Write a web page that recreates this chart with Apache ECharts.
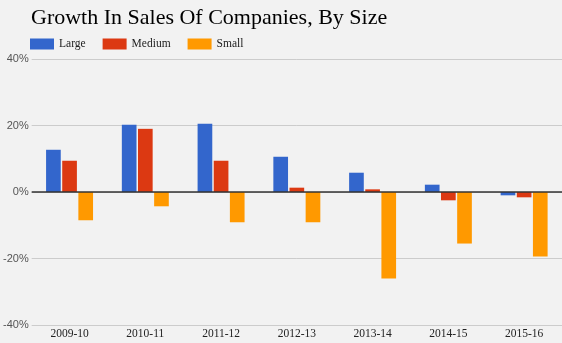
<!DOCTYPE html>
<html>
<head>
<meta charset="utf-8">
<script src="https://cdn.jsdelivr.net/npm/echarts@6/dist/echarts.min.js"></script>
<style>
html,body{margin:0;padding:0;background:#f2f2f2;}
#chart{width:562px;height:343px;}
</style>
</head>
<body>
<div id="chart"></div>
<script>
const categories = ['2009-10','2010-11','2011-12','2012-13','2013-14','2014-15','2015-16'];
const large  = [12.7, 20.2, 20.5, 10.6, 5.8, 2.2, -1.0];
const medium = [9.4, 19.0, 9.4, 1.3, 0.8, -2.5, -1.6];
const small  = [-8.5, -4.3, -9.1, -9.1, -26.0, -15.5, -19.4];
const seriesNames = ['Large','Medium','Small'];
const colors = ['#3366cc','#dc3912','#ff9900'];

const chart = echarts.init(document.getElementById('chart'));
const serif = '"Liberation Serif", "DejaVu Serif", serif';
const dataSets = [large, medium, small];
chart.setOption({
  backgroundColor: '#f2f2f2',
  animation: false,
  color: colors,
  title: {
    text: 'Growth In Sales Of Companies, By Size',
    left: 26, top: 2,
    textStyle: {fontFamily: serif, fontSize: 22, fontWeight: 'normal', color: '#000'}
  },
  legend: {
    left: 25, top: 33,
    icon: 'rect', itemWidth: 24, itemHeight: 11, itemGap: 17,
    textStyle: {fontFamily: serif, fontSize: 11.5, color: '#222'},
    data: seriesNames
  },
  grid: {left: 30, top: 59, width: 544, height: 266, containLabel: false},
  xAxis: {
    type: 'category',
    data: categories,
    axisLine: {show: false, onZero: false},
    axisTick: {show: false},
    axisLabel: {fontFamily: serif, fontSize: 11.5, color: '#222', margin: 3},
    splitLine: {show: false}
  },
  yAxis: {
    type: 'value', min: -40, max: 40, interval: 20,
    axisLine: {show: false}, axisTick: {show: false},
    axisLabel: {formatter: '{value}%', fontFamily: '"Liberation Sans", Arial, sans-serif', fontSize: 11, color: '#555', margin: 3},
    splitLine: {lineStyle: {color: '#cccccc', width: 1}}
  },
  series: dataSets.map((d, i) => ({
    name: seriesNames[i],
    type: 'bar',
    data: d,
    barGap: '10%',
    barCategoryGap: '38%',
    markLine: i === 0 ? {
      silent: true, symbol: 'none', label: {show: false},
      lineStyle: {color: '#333', type: 'solid', width: 1.5},
      data: [{yAxis: 0}]
    } : undefined
  }))
});
</script>
</body>
</html>
